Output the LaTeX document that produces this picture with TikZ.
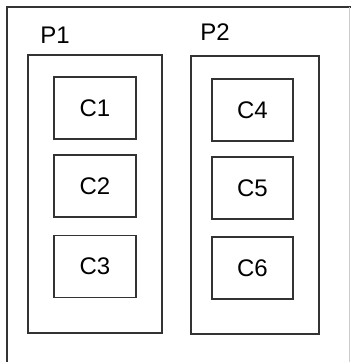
\documentclass[tikz,border=0pt]{standalone}
\usepackage{fontspec}
\setmainfont{Liberation Sans}
\usetikzlibrary{positioning}

\tikzset{
  frame/.style={draw=black!80, line width=1.6pt},
  part/.style={frame, minimum height=278pt, inner sep=0pt},
  comp/.style={frame, minimum width=82pt, minimum height=62pt, inner sep=0pt,
    font=\fontsize{24}{26}\selectfont},
  tag/.style={font=\fontsize{24}{26}\selectfont, inner sep=0pt}
}

\begin{document}
\begin{tikzpicture}[x=1pt, y=-1pt]
            \useasboundingbox (0,0) rectangle (351,362);

            % Outer frame, open at the bottom
            \coordinate (F0) at (7,362);
            \coordinate (F1) at (7,7);
            \coordinate (F2) at (351,7);
            \coordinate (F3) at (349.5,7);
            \coordinate (F4) at (349.5,362);
            \draw[frame] (F0) -- (F1) -- (F2);
            \draw[draw=black!20, line width=0.8pt] (F3) -- (F4);

            % Draw the two parents
            \node[part, minimum width=134pt] (P1) at (95,194) {};
            \node[part, minimum width=128pt] (P2) at (255,195) {};
            \node[tag] (L1) at (55,35) {P1};
            \node[tag] (L2) at (215,32) {P2};

            % Draw the children
            \node[comp] (C1) at (95,108) {C1};
            \node[comp] (C2) at (95,186) {C2};
            \node[comp] (C3) at (95,266.5) {C3};
            \node[comp, minimum width=81pt] (C4) at (252.5,110) {C4};
            \node[comp, minimum width=81pt] (C5) at (252.5,188) {C5};
            \node[comp, minimum width=81pt] (C6) at (252.5,268) {C6};
        \end{tikzpicture}
\end{document}
